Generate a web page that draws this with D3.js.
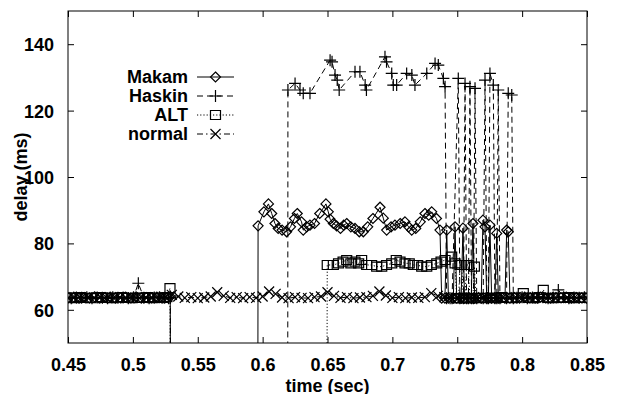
<!DOCTYPE html>
<html>
<head>
<meta charset="utf-8">
<script src="https://cdn.jsdelivr.net/npm/d3@7"></script>
<style>
  body { margin: 0; background: #fff; }
  svg { display: block; }
  text { font-family: "Liberation Sans", Arial, Helvetica, sans-serif; font-weight: bold; font-size: 18px; fill: #000; }
</style>
</head>
<body>
<svg id="chart" width="619" height="394"></svg>
<script>
// Axis ticks
const xTicks = [0.45, 0.5, 0.55, 0.6, 0.65, 0.7, 0.75, 0.8, 0.85];
const yTicks = [60, 80, 100, 120, 140];
const xTickLabels = ["0.45", "0.5", "0.55", "0.6", "0.65", "0.7", "0.75", "0.8", "0.85"];
const yTickLabels = ["60", "80", "100", "120", "140"];

// Series names in legend order
const seriesNames = ["Makam", "Haskin", "ALT", "normal"];

// Makam: packet time (sec) and delay (ms); 0 = packet lost
const makamT = [
  0.4505, 0.4545, 0.4585, 0.4625, 0.4665, 0.4705, 0.4745, 0.4785, 0.4825, 0.4865,
  0.4905, 0.4945, 0.4985, 0.5025, 0.5065, 0.5105, 0.5145, 0.5185, 0.5225, 0.5265,
  0.5288, 0.5290, 0.5962,
  0.5965, 0.6010, 0.6045, 0.6070, 0.6095, 0.6120, 0.6150, 0.6185, 0.6215, 0.6245,
  0.6267, 0.6300, 0.6313, 0.6340, 0.6365, 0.6400, 0.6440, 0.6488, 0.6506, 0.6520,
  0.6545, 0.6570, 0.6600, 0.6625, 0.6648, 0.6680, 0.6712, 0.6745, 0.6776, 0.6810,
  0.6850, 0.6905, 0.6930, 0.6956, 0.6990, 0.7020, 0.7060, 0.7097, 0.7125, 0.7149,
  0.7180, 0.7215, 0.7251, 0.7280, 0.7303, 0.7340, 0.7367,
  0.7380, 0.7405, 0.7419, 0.7432, 0.7470, 0.7483, 0.7496, 0.7530, 0.7544, 0.7556,
  0.7608, 0.7621, 0.7634, 0.7685, 0.7698, 0.7714, 0.7727, 0.7740, 0.7752, 0.7765,
  0.7790, 0.7804, 0.7817, 0.7868, 0.7881, 0.7893, 0.7906,
  0.7940, 0.7980, 0.8020, 0.8060, 0.8100, 0.8140, 0.8180, 0.8220, 0.8260, 0.8300,
  0.8340, 0.8380, 0.8420, 0.8460, 0.8495
];
const makamV = [
  63.6, 63.8, 63.5, 63.7, 63.6, 63.9, 63.5, 63.7, 63.8, 63.5,
  63.6, 63.8, 63.6, 63.9, 63.5, 63.7, 63.6, 63.8, 63.5, 63.7,
  64.0, 0, 0,
  85.3, 89.5, 91.9, 89.0, 86.0, 84.5, 84.0, 83.5, 85.0, 87.5,
  89.0, 86.5, 84.0, 85.0, 85.5, 86.0, 89.0, 91.9, 89.5, 87.3,
  86.0, 85.3, 84.5, 85.5, 86.0, 85.0, 84.5, 83.5, 83.5, 85.0,
  87.5, 90.9, 87.6, 84.0, 85.0, 85.5, 86.0, 86.5, 85.0, 84.0,
  84.5, 86.5, 89.0, 88.5, 89.5, 87.5, 84.0,
  63.5, 63.5, 84.0, 63.5, 63.5, 85.0, 63.5, 63.5, 84.6, 63.5,
  63.5, 86.0, 63.5, 63.5, 87.0, 85.0, 63.5, 63.5, 85.5, 63.5,
  63.5, 83.0, 63.5, 63.5, 84.0, 83.5, 63.5,
  63.7, 63.5, 63.8, 63.6, 63.5, 63.8, 63.6, 63.5, 63.7, 63.6,
  63.8, 63.5, 63.7, 63.6, 63.5
];

// Haskin
const haskinT = [
  0.4525, 0.4565, 0.4605, 0.4645, 0.4685, 0.4725, 0.4765, 0.4805, 0.4845, 0.4885,
  0.4925, 0.4965, 0.5005, 0.5042, 0.5085, 0.5125, 0.5165, 0.5205, 0.5245, 0.5275,
  0.5289, 0.5291, 0.6193,
  0.6195, 0.6250, 0.6288, 0.6313, 0.6365, 0.6520, 0.6535, 0.6558, 0.6575, 0.6590,
  0.6712, 0.6750, 0.6790, 0.6800, 0.6943, 0.6955, 0.6995, 0.7007, 0.7033, 0.7110,
  0.7150, 0.7174, 0.7265, 0.7329, 0.7354, 0.7393, 0.7406,
  0.7418, 0.7445, 0.7460, 0.7508, 0.7520, 0.7548, 0.7560, 0.7572, 0.7586, 0.7598,
  0.7610, 0.7625, 0.7637, 0.7650, 0.7700, 0.7714, 0.7728, 0.7740, 0.7752, 0.7778,
  0.7790, 0.7805, 0.7816, 0.7829, 0.7880, 0.7893, 0.7920, 0.7932,
  0.7960, 0.8000, 0.8040, 0.8080, 0.8120, 0.8160, 0.8200, 0.8240, 0.8279, 0.8320,
  0.8360, 0.8400, 0.8440, 0.8480
];
const haskinV = [
  63.5, 63.7, 63.6, 63.8, 63.5, 63.7, 63.6, 63.5, 63.8, 63.6,
  63.7, 63.5, 63.8, 68.0, 63.6, 63.5, 63.7, 63.8, 63.6, 63.5,
  63.7, 0, 0,
  126.2, 128.2, 126.2, 125.2, 125.2, 135.2, 134.7, 130.7, 129.2, 126.2,
  131.7, 131.7, 127.7, 126.2, 136.2, 134.7, 131.2, 127.7, 127.7, 131.2,
  130.7, 127.7, 131.2, 134.2, 133.7, 129.7, 127.2,
  63.5, 63.5, 63.5, 129.7, 63.5, 63.5, 128.2, 63.5, 63.5, 127.2,
  63.5, 63.5, 126.7, 63.5, 63.5, 129.2, 63.5, 63.5, 131.2, 127.7,
  63.5, 63.5, 126.2, 63.5, 63.5, 125.2, 124.7, 63.5,
  63.6, 63.8, 63.5, 63.7, 63.6, 63.8, 63.5, 63.7, 66.0, 63.8,
  63.5, 63.7, 63.6, 63.8
];

// ALT
const altT = [
  0.4515, 0.4555, 0.4595, 0.4635, 0.4675, 0.4715, 0.4755, 0.4795, 0.4835, 0.4875,
  0.4915, 0.4955, 0.4995, 0.5035, 0.5075, 0.5115, 0.5155, 0.5195, 0.5235, 0.5262,
  0.5286, 0.5292, 0.6494,
  0.6498, 0.6545, 0.6585, 0.6620, 0.6648, 0.6680, 0.6712, 0.6740, 0.6763, 0.6802,
  0.6840, 0.6879, 0.6918, 0.6955, 0.6995, 0.7030, 0.7059, 0.7097, 0.7130, 0.7161,
  0.7195, 0.7226, 0.7265, 0.7300, 0.7342, 0.7375, 0.7406, 0.7457, 0.7483,
  0.7495, 0.7510, 0.7522, 0.7534, 0.7546, 0.7560, 0.7572, 0.7585, 0.7597, 0.7620,
  0.7632, 0.7644,
  0.7680, 0.7720, 0.7760, 0.7800, 0.7840, 0.7880, 0.7920, 0.7960, 0.8009, 0.8050,
  0.8090, 0.8130, 0.8163, 0.8200, 0.8240, 0.8280, 0.8320, 0.8360, 0.8400, 0.8440,
  0.8480
];
const altV = [
  63.7, 63.5, 63.8, 63.6, 63.5, 63.7, 63.8, 63.6, 63.5, 63.7,
  63.8, 63.6, 63.5, 63.7, 63.6, 63.8, 63.5, 63.7, 63.6, 63.8,
  66.5, 0, 0,
  73.5, 73.5, 74.0, 74.5, 75.0, 74.0, 74.5, 74.0, 75.0, 73.5,
  73.5, 73.0, 73.0, 73.5, 74.0, 75.0, 74.5, 74.0, 74.0, 73.5,
  73.5, 73.0, 73.0, 73.5, 74.0, 74.5, 75.0, 76.0, 74.0,
  63.5, 63.5, 73.5, 73.5, 63.5, 63.5, 73.5, 73.5, 63.5, 63.5,
  73.0, 63.5,
  63.6, 63.5, 63.7, 63.5, 63.8, 63.6, 63.5, 63.7, 65.0, 63.6,
  63.5, 63.8, 66.0, 63.6, 63.5, 63.7, 63.6, 63.8, 63.5, 63.7,
  63.6
];

// normal (no rerouting)
const normalT = [
  0.450, 0.455, 0.460, 0.465, 0.470, 0.475, 0.480, 0.485, 0.490, 0.495,
  0.500, 0.505, 0.510, 0.515, 0.520, 0.525, 0.530, 0.535, 0.540, 0.545,
  0.550, 0.555, 0.560, 0.565, 0.570, 0.575, 0.580, 0.585, 0.590, 0.595,
  0.600, 0.605, 0.610, 0.615, 0.620, 0.625, 0.630, 0.635, 0.640, 0.645,
  0.650, 0.655, 0.660, 0.665, 0.670, 0.675, 0.680, 0.685, 0.690, 0.695,
  0.700, 0.705, 0.710, 0.715, 0.720, 0.725, 0.730, 0.735, 0.740, 0.745,
  0.750, 0.755, 0.760, 0.765, 0.770, 0.775, 0.780, 0.785, 0.790, 0.795,
  0.800, 0.805, 0.810, 0.815, 0.820, 0.825, 0.830, 0.835, 0.840, 0.845,
  0.850
];
const normalV = [
  63.5, 63.8, 63.5, 63.7, 63.5, 63.8, 63.5, 63.6, 63.8, 63.5,
  63.7, 63.5, 63.8, 63.6, 63.5, 63.8, 64.5, 64.0, 63.6, 63.8,
  63.5, 63.7, 64.0, 65.3, 64.2, 63.6, 63.8, 63.5, 63.8, 63.6,
  64.0, 65.5, 64.8, 63.7, 63.5, 63.8, 63.6, 63.5, 63.8, 64.0,
  65.3, 64.2, 63.6, 63.8, 63.5, 63.7, 63.8, 64.2, 65.5, 64.3,
  63.6, 63.8, 63.5, 63.7, 63.6, 63.8, 65.0, 64.2, 63.8, 63.6,
  63.5, 63.8, 63.6, 63.5, 63.8, 63.6, 63.5, 63.7, 63.5, 63.8,
  63.6, 63.5, 63.7, 63.5, 63.8, 63.6, 63.5, 63.7, 63.5, 63.8,
  63.5
];

const svg = d3.select("#chart");
const plot = { left: 68, right: 587, top: 11, bottom: 343 };

const x = d3.scaleLinear().domain([0.45, 0.85]).range([plot.left, plot.right]);
const y = d3.scaleLinear().domain([50, 150]).range([plot.bottom, plot.top]);

svg.append("defs").append("clipPath").attr("id", "plotClip")
  .append("rect")
  .attr("x", plot.left).attr("y", plot.top)
  .attr("width", plot.right - plot.left).attr("height", plot.bottom - plot.top);

// Marker shapes (open symbols)
const symbols = {
  diamond: "M0,-5L5,0L0,5L-5,0Z",
  plus: "M-6,0H6M0,-6V6",
  square: "M-5,-4.5H5V4.5H-5Z",
  cross: "M-5,-5L5,5M5,-5L-5,5"
};

const series = [
  { name: seriesNames[3], t: normalT, v: normalV, dash: "6,3,1.5,3", sym: symbols.cross },
  { name: seriesNames[2], t: altT, v: altV, dash: "1.2,2", sym: symbols.square },
  { name: seriesNames[1], t: haskinT, v: haskinV, dash: "6,4", sym: symbols.plus },
  { name: seriesNames[0], t: makamT, v: makamV, dash: null, sym: symbols.diamond }
];

const line = d3.line().x(d => x(d[0])).y(d => y(d[1]));

const dataLayer = svg.append("g").attr("clip-path", "url(#plotClip)");

series.forEach(s => {
  const pts = s.t.map((t, i) => [t, s.v[i]]);
  const g = dataLayer.append("g");
  g.append("path")
    .attr("d", line(pts))
    .attr("fill", "none")
    .attr("stroke", "#000")
    .attr("stroke-width", 1)
    .attr("stroke-dasharray", s.dash);
  g.selectAll("path.mk")
    .data(pts.filter(d => d[1] >= 50))
    .join("path")
    .attr("class", "mk")
    .attr("transform", d => `translate(${x(d[0])},${y(d[1])})`)
    .attr("d", s.sym)
    .attr("fill", "none")
    .attr("stroke", "#000")
    .attr("stroke-width", 1.2);
});

// Axes with inward ticks on all four sides
const tickLen = 6;
const xBottom = svg.append("g").attr("transform", `translate(0,${plot.bottom})`)
  .call(d3.axisBottom(x).tickValues(xTicks).tickSize(-tickLen).tickPadding(10)
    .tickFormat((d, i) => xTickLabels[i]));
const xTop = svg.append("g").attr("transform", `translate(0,${plot.top})`)
  .call(d3.axisTop(x).tickValues(xTicks).tickSize(-tickLen).tickFormat(""));
const yLeft = svg.append("g").attr("transform", `translate(${plot.left},0)`)
  .call(d3.axisLeft(y).tickValues(yTicks).tickSize(-tickLen).tickPadding(14)
    .tickFormat((d, i) => yTickLabels[i]));
const yRight = svg.append("g").attr("transform", `translate(${plot.right},0)`)
  .call(d3.axisRight(y).tickValues(yTicks).tickSize(-tickLen).tickFormat(""));

[xBottom, xTop, yLeft, yRight].forEach(a => {
  a.select(".domain").remove();
  a.selectAll(".tick line").attr("stroke", "#000");
  a.selectAll("text").attr("font-size", null).attr("font-family", null)
    .style("font-size", "18px").style("font-weight", "bold").attr("fill", "#000");
});
xBottom.selectAll(".tick text").attr("dy", null).attr("y", 27.5);
yLeft.selectAll(".tick text").attr("dy", "0.36em");

// Plot frame
svg.append("rect")
  .attr("x", plot.left).attr("y", plot.top)
  .attr("width", plot.right - plot.left).attr("height", plot.bottom - plot.top)
  .attr("fill", "none").attr("stroke", "#000").attr("stroke-width", 1);

// Axis titles
svg.append("text")
  .attr("x", (plot.left + plot.right) / 2).attr("y", 391.5)
  .attr("text-anchor", "middle")
  .text("time (sec)");
svg.append("text")
  .attr("transform", `translate(27,${(plot.top + plot.bottom) / 2}) rotate(-90)`)
  .attr("text-anchor", "middle")
  .text("delay (ms)");

// Legend
const legendOrder = [series[3], series[2], series[1], series[0]];
const legend = svg.append("g");
legendOrder.forEach((s, i) => {
  const ly = 77 + i * 19;
  legend.append("text")
    .attr("x", 188).attr("y", ly).attr("dy", "0.36em")
    .attr("text-anchor", "end")
    .text(s.name);
  legend.append("line")
    .attr("x1", 197).attr("x2", 234).attr("y1", ly).attr("y2", ly)
    .attr("stroke", "#000").attr("stroke-width", 1)
    .attr("stroke-dasharray", s.dash);
  legend.append("path")
    .attr("transform", `translate(215.5,${ly})`)
    .attr("d", s.sym)
    .attr("fill", "none").attr("stroke", "#000").attr("stroke-width", 1.2);
});
</script>
</body>
</html>
